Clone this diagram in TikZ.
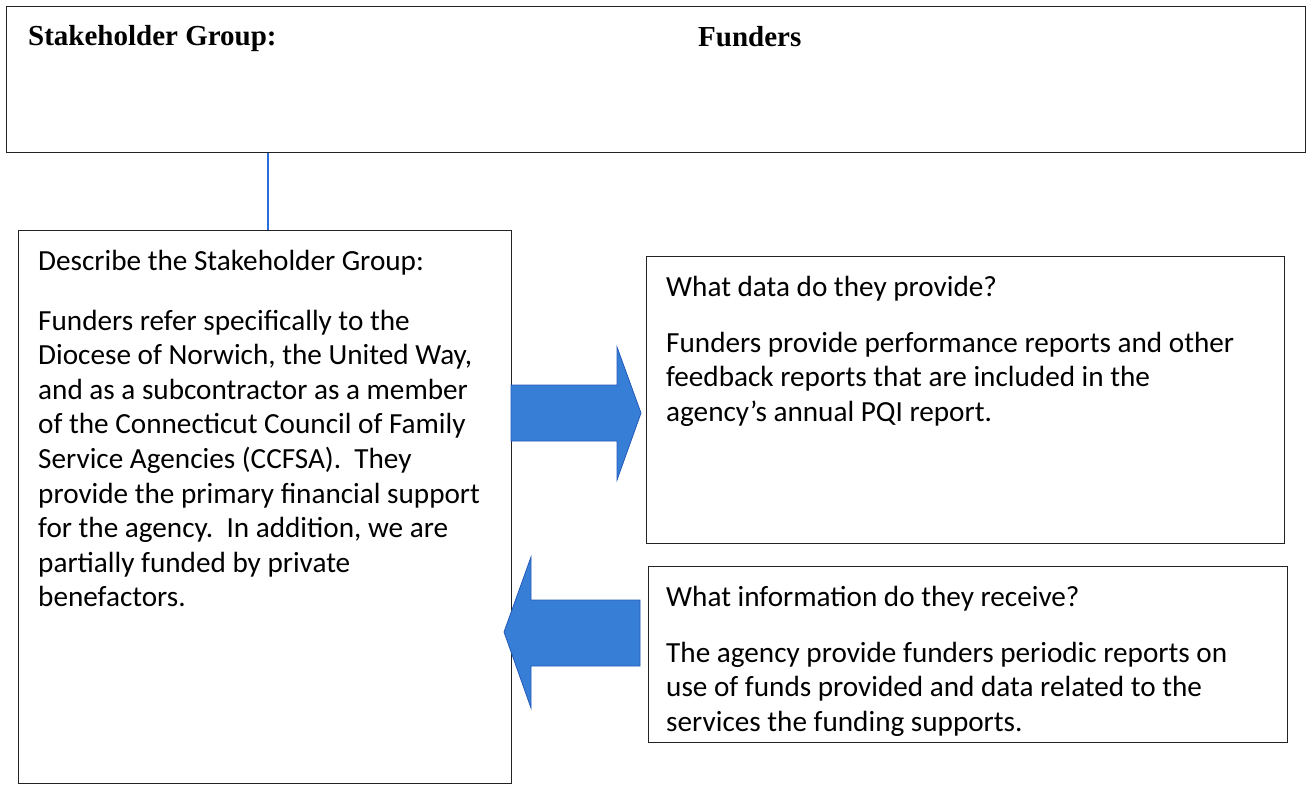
\documentclass[tikz,border=0pt]{standalone}
\usepackage{fontspec}
\setmainfont{Liberation Serif}
\newfontfamily\bodyfont{Carlito}
\definecolor{arrowblue}{RGB}{55,126,214}
\definecolor{arrowedge}{RGB}{35,90,185}
\definecolor{linkblue}{RGB}{40,110,220}
\definecolor{boxline}{RGB}{35,35,35}
\tikzset{
  panel/.style={draw=boxline, line width=1.4pt, anchor=north west, inner sep=0pt},
  title/.style={anchor=base west, inner sep=0pt, font=\fontsize{29}{34}\selectfont\bfseries},
  head/.style={anchor=base west, inner sep=0pt, font=\bodyfont\fontsize{29.2}{34}\selectfont},
  body/.style={anchor=base west, inner sep=0pt, font=\bodyfont\fontsize{29.2}{34.6}\selectfont},
  bigarrow/.style={fill=arrowblue, draw=arrowedge, line width=0.8pt, line join=miter},
  link/.style={draw=linkblue, line width=1.2pt}
}
\newcommand{\lines}[1]{\begin{tabular}[t]{@{}l@{}}#1\end{tabular}}
\begin{document}
\begin{tikzpicture}[x=1pt,y=-1pt]
\useasboundingbox (0,0) rectangle (1306,785);
% panels
\node[panel, minimum width=1299pt, minimum height=146pt] (top) at (6,6) {};
\node[panel, minimum width=493pt, minimum height=553pt] (left) at (18,230) {};
\node[panel, minimum width=638pt, minimum height=287pt] (ur) at (646,256) {};
\node[panel, minimum width=639pt, minimum height=176pt] (lr) at (648,566) {};
% link
\draw[link] (top.south -| 268,0) -- (left.north -| 268,0);
% titles
\node[title] (t1) at (28,45) {Stakeholder Group:};
\node[title] (t2) at (698,46) {Funders};
% left text
\node[head] (lh) at (38,270) {Describe the Stakeholder Group:};
\node[body] (lb) at (38,330) {\lines{Funders refer specifically to the\\
Diocese of Norwich, the United Way,\\
and as a subcontractor as a member\\
of the Connecticut Council of Family\\
Service Agencies (CCFSA).\ \ They\\
provide the primary financial support\\
for the agency.\ \ In addition, we are\\
partially funded by private\\
benefactors.}};
% upper right text
\node[head] (urh) at (666,296) {What data do they provide?};
\node[body] (urb) at (666,352) {\lines{Funders provide performance reports and other\\
feedback reports that are included in the\\
agency’s annual PQI report.}};
% lower right text
\node[head] (lrh) at (666,606) {What information do they receive?};
\node[body] (lrb) at (666,662) {\lines{The agency provide funders periodic reports on\\
use of funds provided and data related to the\\
services the funding supports.}};
% arrows
\draw[bigarrow] (511,385) -- (617,385) -- (617,347) -- (641,413) -- (617,480) -- (617,441) -- (511,441) -- cycle;
\draw[bigarrow] (640,600) -- (531,600) -- (531,557) -- (504,632) -- (531,708) -- (531,666) -- (640,666) -- cycle;
\end{tikzpicture}
\end{document}
